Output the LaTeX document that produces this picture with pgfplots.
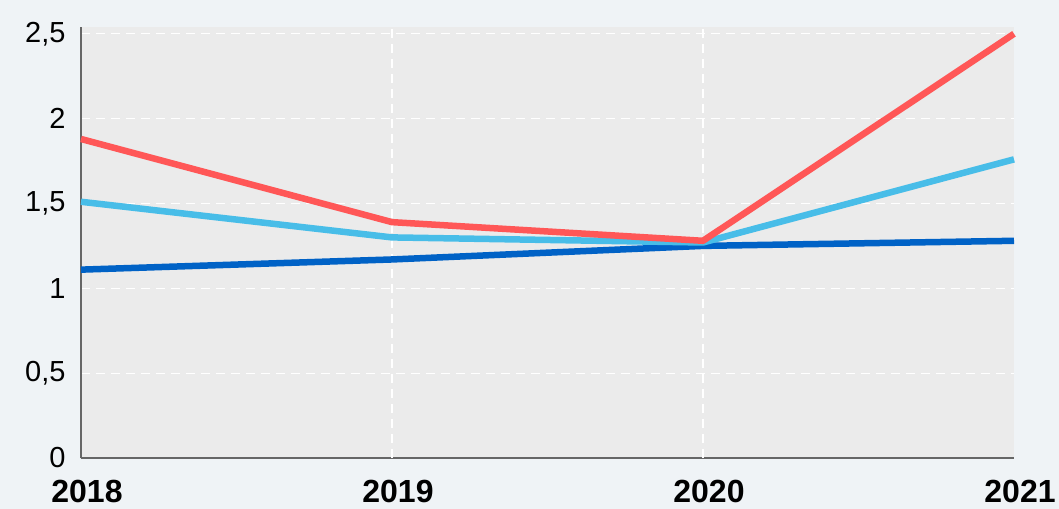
\documentclass[border=0pt]{standalone}
\usepackage{pgfplots}
\pgfplotsset{compat=1.18}
\usepackage{fontspec}
\setmainfont{Liberation Sans}
\definecolor{bgcol}{HTML}{EFF3F6}
\definecolor{plotbg}{HTML}{EBEBEB}
\definecolor{cred}{HTML}{FF5757}
\definecolor{clight}{HTML}{48BDE8}
\definecolor{cdark}{HTML}{0062C6}
\definecolor{axgray}{HTML}{666666}
\begin{document}
\begin{tikzpicture}
\useasboundingbox[fill=bgcol] (0,0) rectangle (1059bp,509bp);
\begin{axis}[
  at={(81bp,51bp)}, anchor=south west,
  scale only axis, width=933bp, height=431bp,
  xmin=0, xmax=3, ymin=0, ymax=2.54,
  xtick={0,1,2,3}, xticklabels={2018,2019,2020,2021},
  ytick={0,0.5,1,1.5,2,2.5},
  extra x ticks={1,2},
  extra x tick labels={},
  extra x tick style={xmajorgrids=true},
  /pgf/number format/use comma,
  /pgf/number format/assume math mode=true,
  yticklabel style={font=\fontsize{29bp}{30bp}\selectfont, anchor=east, xshift=-12bp},
  xticklabel style={font=\fontsize{32bp}{33bp}\selectfont\bfseries, anchor=north, yshift=-19bp, xshift=6bp},
  major tick length=0pt,
  axis x line*=bottom, axis y line*=left,
  axis line style={draw=axgray, line width=2.5bp, -},
  ymajorgrids=true, xmajorgrids=false,
  major grid style={draw=white, line width=1.2bp, dash pattern=on 9bp off 6bp},
  axis background/.style={fill=plotbg},
  clip=false,
]
\addplot[cdark, line width=6.5bp, line join=round] coordinates {(0,1.11) (1,1.17) (2,1.25) (3,1.28)};
\addplot[clight, line width=6.5bp, line join=round] coordinates {(0,1.51) (1,1.30) (2,1.27) (3,1.76)};
\addplot[cred, line width=6.5bp, line join=round] coordinates {(0,1.88) (1,1.39) (2,1.28) (3,2.50)};
\end{axis}
\end{tikzpicture}
\end{document}
